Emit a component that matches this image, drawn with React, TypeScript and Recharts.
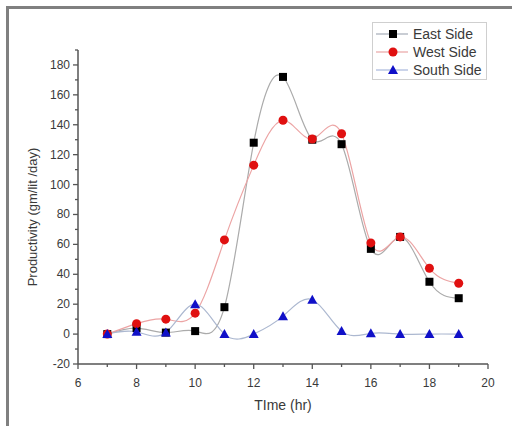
import React from 'react';
import { LineChart, Line, XAxis, YAxis } from 'recharts';

const hours = [7, 8, 9, 10, 11, 12, 13, 14, 15, 16, 17, 18, 19];
const eastSide = [0, 4, 1, 2, 18, 128, 172, 130, 127, 57, 65, 35, 24];
const westSide = [0, 7, 10, 14, 63, 113, 143, 130.5, 134, 61, 65, 44, 34];
const southSide = [0, 1.5, 1, 20, 0, 0, 12, 23, 2, 0.5, 0, 0, 0];

const xTicks = [6, 7, 8, 9, 10, 11, 12, 13, 14, 15, 16, 17, 18, 19, 20];
const yTicks = [-20, -10, 0, 10, 20, 30, 40, 50, 60, 70, 80, 90, 100, 110, 120, 130, 140, 150, 160, 170, 180, 190];

const data = hours.map((h, i) => ({
  t: h,
  east: eastSide[i],
  west: westSide[i],
  south: southSide[i],
}));

const FONT = '"Liberation Sans", Arial, sans-serif';
const AXIS = '#555';
const TEXT = '#3a3a3a';

const SquareDot = (p: any) => (
  <rect key={`e${p.index}`} x={p.cx - 4} y={p.cy - 4} width={8} height={8} fill="#000" />
);
const CircleDot = (p: any) => (
  <circle key={`w${p.index}`} cx={p.cx} cy={p.cy} r={4.5} fill="#e01010" />
);
const TriDot = (p: any) => (
  <polygon
    key={`s${p.index}`}
    points={`${p.cx},${p.cy - 5} ${p.cx + 5},${p.cy + 4} ${p.cx - 5},${p.cy + 4}`}
    fill="#1010c8"
  />
);

const XTick = (p: any) => {
  const v = p.payload.value;
  const major = v % 2 === 0;
  const axisY = p.y - 8;
  return (
    <g>
      <line x1={p.x} y1={axisY} x2={p.x} y2={axisY + (major ? 5 : 3)} stroke={AXIS} strokeWidth={1.3} />
      {major && (
        <text x={p.x} y={p.y + 15} textAnchor="middle" fontSize={12} fill={TEXT} fontFamily={FONT}>
          {v}
        </text>
      )}
    </g>
  );
};

const YTick = (p: any) => {
  const v = p.payload.value;
  const major = v % 20 === 0;
  const axisX = p.x + 8;
  return (
    <g>
      <line x1={axisX} y1={p.y} x2={axisX - (major ? 5 : 3)} y2={p.y} stroke={AXIS} strokeWidth={1.3} />
      {major && (
        <text x={p.x} y={p.y + 4} textAnchor="end" fontSize={12} fill={TEXT} fontFamily={FONT}>
          {v}
        </text>
      )}
    </g>
  );
};

const legendItems = [
  { name: 'East Side', line: '#a4acb8', kind: 'square', color: '#000' },
  { name: 'West Side', line: '#eaa4a4', kind: 'circle', color: '#e01010' },
  { name: 'South Side', line: '#a8b8dc', kind: 'tri', color: '#1010c8' },
];

export default function App() {
  return (
    <div
      style={{
        position: 'absolute',
        left: 0,
        top: 0,
        width: 512,
        height: 426,
        background: '#fff',
        overflow: 'hidden',
      }}
    >
      <svg width={512} height={426} style={{ position: 'absolute', left: 0, top: 0 }}>
        <line x1={7.5} y1={6} x2={7.5} y2={426} stroke="#808080" strokeWidth={3} />
        <line x1={6} y1={7.5} x2={512} y2={7.5} stroke="#808080" strokeWidth={3} />
      </svg>
      <div style={{ position: 'absolute', left: 0, top: 0 }}>
        <LineChart width={512} height={426} data={data} margin={{ top: 50, right: 24, bottom: 32, left: 38 }}>
          <XAxis
            dataKey="t"
            type="number"
            domain={[6, 20]}
            ticks={xTicks}
            interval={0}
            tickSize={5}
            tickMargin={3}
            tickLine={false}
            tick={<XTick />}
            height={30}
            stroke={AXIS}
            strokeWidth={1.5}
            label={(props: any) => {
              const vb = props.viewBox;
              return (
                <text x={vb.x + vb.width / 2} y={410} textAnchor="middle" fontSize={14} fill={TEXT} fontFamily={FONT}>
                  TIme (hr)
                </text>
              );
            }}
          />
          <YAxis
            type="number"
            domain={[-20, 190]}
            ticks={yTicks}
            interval={0}
            tickSize={5}
            tickMargin={3}
            tickLine={false}
            tick={<YTick />}
            width={40}
            stroke={AXIS}
            strokeWidth={1.5}
            allowDataOverflow
            label={() => (
              <text
                x={32}
                y={217}
                transform="rotate(-90 32 217)"
                textAnchor="middle"
                dominantBaseline="central"
                fontSize={13}
                fill={TEXT}
                fontFamily={FONT}
              >
                Productivity (gm/lit /day)
              </text>
            )}
          />
          <Line
            type="natural"
            dataKey="east"
            stroke="#ababab"
            strokeWidth={1.2}
            dot={SquareDot}
            activeDot={false}
            isAnimationActive={false}
          />
          <Line
            type="natural"
            dataKey="west"
            stroke="#eca4a4"
            strokeWidth={1.2}
            dot={CircleDot}
            activeDot={false}
            isAnimationActive={false}
          />
          <Line
            type="natural"
            dataKey="south"
            stroke="#acb8d0"
            strokeWidth={1.2}
            dot={TriDot}
            activeDot={false}
            isAnimationActive={false}
          />
        </LineChart>
      </div>
      <div
        style={{
          position: 'absolute',
          left: 372,
          top: 22,
          width: 115,
          height: 58,
          border: '1px solid #cfcfcf',
          boxSizing: 'border-box',
          fontFamily: FONT,
          fontSize: 14,
          color: TEXT,
          paddingTop: 2,
        }}
      >
        {legendItems.map((it) => (
          <div key={it.name} style={{ display: 'flex', alignItems: 'center', height: 18 }}>
            <svg width={38} height={18} style={{ marginLeft: 2, flex: 'none' }}>
              <line x1={1} y1={9} x2={33} y2={9} stroke={it.line} strokeWidth={1.2} />
              {it.kind === 'square' && <rect x={14} y={5} width={8} height={8} fill={it.color} />}
              {it.kind === 'circle' && <circle cx={18} cy={9} r={4.5} fill={it.color} />}
              {it.kind === 'tri' && <polygon points="18,4 23,13 13,13" fill={it.color} />}
            </svg>
            <span style={{ lineHeight: '18px', whiteSpace: 'nowrap' }}>{it.name}</span>
          </div>
        ))}
      </div>
    </div>
  );
}
